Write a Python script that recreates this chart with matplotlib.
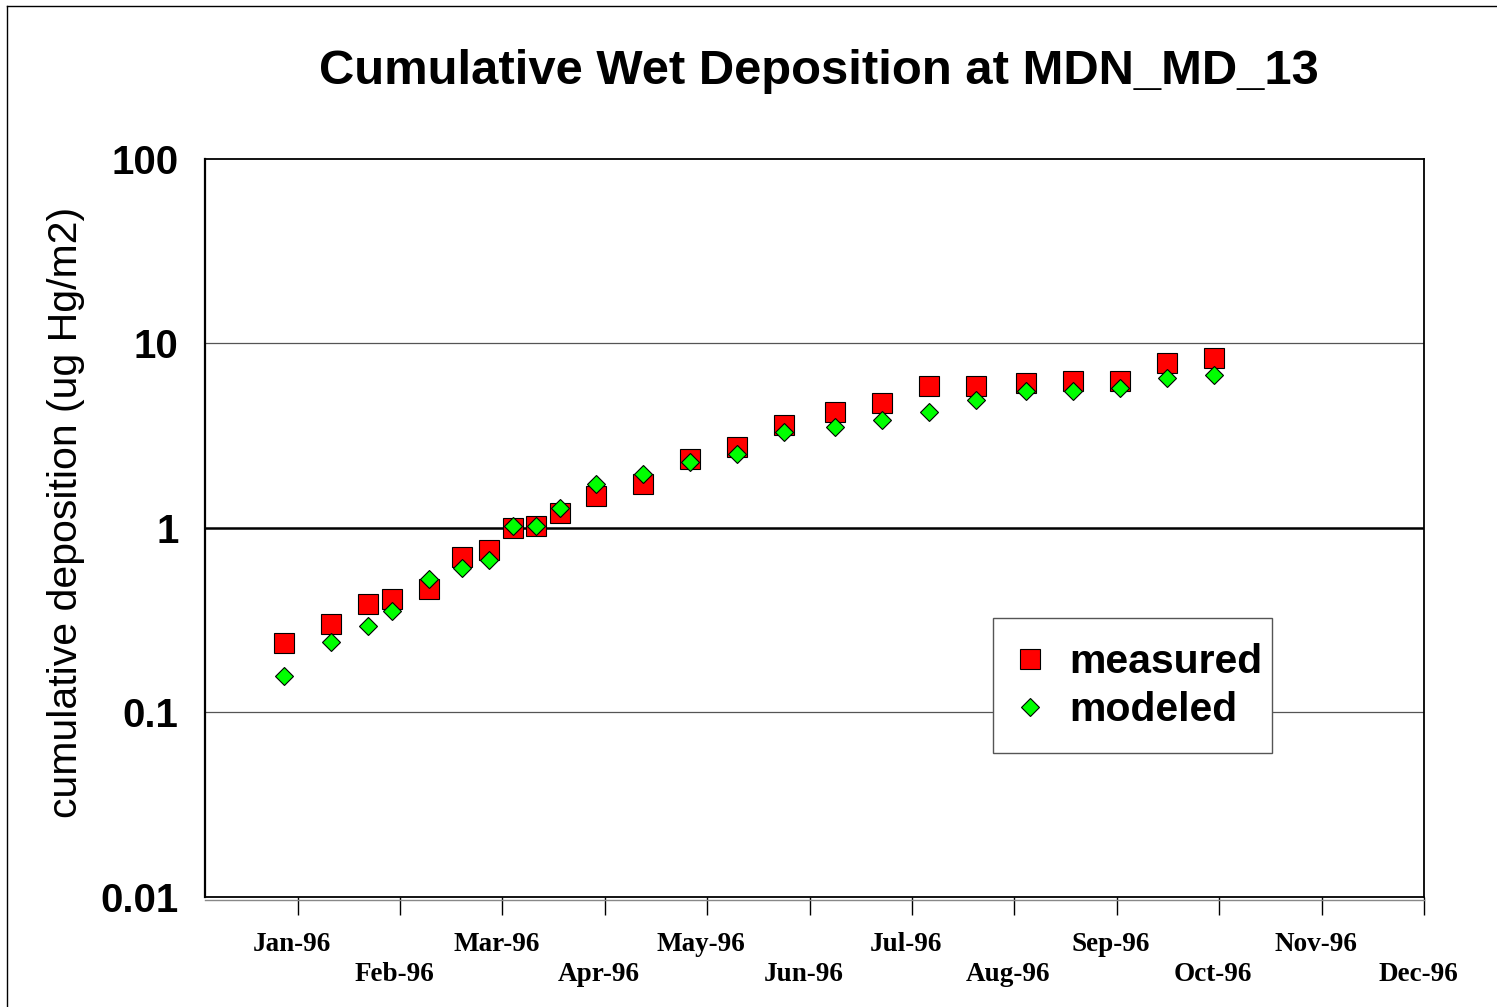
import pandas as pd
import matplotlib
matplotlib.use("Agg")
import matplotlib.pyplot as plt
from matplotlib.lines import Line2D
from matplotlib.patches import Rectangle
from matplotlib.transforms import ScaledTranslation

# sample dates (collection periods) and cumulative deposition, ug Hg/m2
dates = pd.to_datetime([
    "1995-12-28", "1996-01-11", "1996-01-22", "1996-01-29", "1996-02-09",
    "1996-02-19", "1996-02-27", "1996-03-05", "1996-03-12", "1996-03-19",
    "1996-03-30", "1996-04-13", "1996-04-27", "1996-05-11", "1996-05-25",
    "1996-06-09", "1996-06-23", "1996-07-07", "1996-07-21", "1996-08-05",
    "1996-08-19", "1996-09-02", "1996-09-16", "1996-09-30",
])
measured = [0.237, 0.302, 0.388, 0.412, 0.465, 0.693, 0.760, 1.00, 1.03, 1.20,
            1.49, 1.74, 2.36, 2.76, 3.63, 4.23, 4.77, 5.92, 5.90, 6.10,
            6.30, 6.28, 7.83, 8.34]
modeled = [0.158, 0.242, 0.293, 0.353, 0.527, 0.610, 0.671, 1.03, 1.03, 1.28,
           1.74, 1.97, 2.29, 2.52, 3.31, 3.51, 3.85, 4.23, 4.91, 5.56,
           5.56, 5.73, 6.50, 6.71]

tick_labels = ["Jan-96", "Feb-96", "Mar-96", "Apr-96", "May-96", "Jun-96",
               "Jul-96", "Aug-96", "Sep-96", "Oct-96", "Nov-96", "Dec-96"]
y_ticks = [0.01, 0.1, 1, 10, 100]
y_tick_labels = ["0.01", "0.1", "1", "10", "100"]

W, H = 1497, 1007
fig = plt.figure(figsize=(W / 100, H / 100), dpi=100)
ax = fig.add_axes([205 / W, 1 - 897 / H, (1424 - 205) / W, (897 - 159) / H])

sans = "Liberation Sans"
serif = "Liberation Serif"

# data
ax.plot(dates, measured, linestyle="none", marker="s", markersize=15,
        markerfacecolor="#ff0000", markeredgecolor="black", markeredgewidth=0.8,
        label="measured", zorder=3)
ax.plot(dates, modeled, linestyle="none", marker="D", markersize=9.5,
        markerfacecolor="#00ff00", markeredgecolor="black", markeredgewidth=0.8,
        label="modeled", zorder=4)

# y axis (log)
ax.set_yscale("log")
ax.set_ylim(0.01, 100)
ax.set_yticks(y_ticks)
ax.set_yticklabels(y_tick_labels)
ax.yaxis.set_minor_locator(matplotlib.ticker.NullLocator())
ax.tick_params(axis="y", length=0, pad=19)
for lab in ax.get_yticklabels():
    lab.set_fontfamily(sans)
    lab.set_fontweight("bold")
    lab.set_fontsize(29)

# gridlines
ax.axhline(10, color="#555555", lw=0.9, zorder=1)
ax.axhline(0.1, color="#555555", lw=0.9, zorder=1)
ax.axhline(1, color="black", lw=1.8, zorder=1)

# x axis: month ticks spaced evenly
start = pd.Timestamp("1996-01-01")
step = 30.5
tick_pos = [start + pd.Timedelta(days=step * k) for k in range(len(tick_labels))]
ax.set_xlim(start - pd.Timedelta(days=27.6), tick_pos[-1])
ax.set_xticks(tick_pos)
ax.set_xticklabels(tick_labels)
ax.tick_params(axis="x", direction="out", length=13, width=1.0, color="black", pad=12)
for i, t in enumerate(ax.xaxis.get_major_ticks()):
    if i % 2 == 1:
        t.set_pad(34)
# labels sit a little left of their ticks, alternating rows
shift = ScaledTranslation(-6 / 100, 0, fig.dpi_scale_trans)
for t in ax.xaxis.get_major_ticks():
    lab = t.label1
    lab.set_fontfamily(serif)
    lab.set_fontweight("bold")
    lab.set_fontsize(19.5)
    lab.set_transform(lab.get_transform() + shift)

for s in ax.spines.values():
    s.set_color("black")
    s.set_linewidth(1.3)
ax.spines["left"].set_linewidth(1.6)

# gray shadow line under the x axis
ax.plot([0, 1], [-0.004, -0.004], transform=ax.transAxes, color="#888888",
        lw=1.0, clip_on=False)

# legend (frame drawn separately)
box = Rectangle((993 / W, 1 - 753 / H), (1272 - 993) / W, (753 - 618) / H,
                transform=fig.transFigure, facecolor="white", edgecolor="#555555",
                lw=1.0, zorder=5, clip_on=False)
ax.add_patch(box)
leg = ax.legend(loc="center left", bbox_to_anchor=(993 / W, 1 - 686 / H),
                bbox_transform=fig.transFigure, borderaxespad=0,
                prop={"family": sans, "weight": "bold", "size": 29.5},
                handlelength=1.0, handletextpad=0.45, borderpad=0.4,
                labelspacing=0.25, frameon=False)
leg.set_zorder(6)

# title and y label
fig.text(819 / W, 1 - 72 / H, "Cumulative Wet Deposition at MDN_MD_13",
         ha="center", va="center", fontfamily=sans, fontweight="bold",
         fontsize=35.3)
fig.text(66 / W, 1 - 512 / H, "cumulative deposition (ug Hg/m2)",
         rotation=90, ha="center", va="center", fontfamily=sans, fontsize=29.5)

# outer border (left and top visible)
fig.add_artist(Line2D([7 / W, 7 / W], [0, 1 - 6 / H], color="black", lw=1.0))
fig.add_artist(Line2D([7 / W, 1], [1 - 6 / H, 1 - 6 / H], color="black", lw=1.0))

fig.savefig("out.png", dpi=100)
